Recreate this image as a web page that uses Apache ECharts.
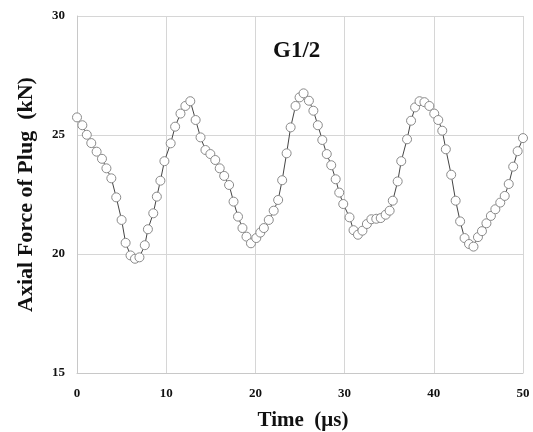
<!DOCTYPE html>
<html lang="en">

<head>
    <meta charset="UTF-8">
    <title>G1/2 axial force of plug</title>
    <script src="https://cdn.jsdelivr.net/npm/echarts@6.0.0/dist/echarts.min.js"></script>
    <style>
        html, body { margin: 0; padding: 0; background: #fff; }
    </style>
</head>

<body>
    <div id="main" style="width: 533px;height:432px;"></div>

    <script type="text/javascript">
        // time (us)
        const tempos = [
            0.0, 0.6, 1.1, 1.6, 2.2, 2.8, 3.3, 3.85, 4.4, 5.0,
            5.45, 6.0, 6.5, 7.0, 7.6, 7.95, 8.55, 8.95, 9.35, 9.8,
            10.5, 11.0, 11.6, 12.15, 12.7, 13.3, 13.85, 14.4, 14.95, 15.5,
            16.0, 16.5, 17.05, 17.55, 18.05, 18.55, 19.0, 19.5, 20.1, 20.55,
            20.95, 21.5, 22.05, 22.55, 23.0, 23.5, 23.95, 24.5, 24.95, 25.4,
            26.0, 26.5, 27.0, 27.5, 28.0, 28.5, 29.0, 29.4, 29.85, 30.55,
            31.0, 31.5, 32.0, 32.5, 33.0, 33.55, 34.05, 34.6, 35.05, 35.4,
            35.95, 36.35, 37.0, 37.45, 37.9, 38.4, 38.95, 39.5, 40.05, 40.5,
            40.95, 41.35, 41.95, 42.45, 42.95, 43.45, 43.95, 44.45, 44.95, 45.4,
            45.9, 46.4, 46.9, 47.45, 47.95, 48.4, 48.9, 49.4, 50.0
        ];
        // axial force (kN)
        const forcas = [
            25.74, 25.41, 25.01, 24.66, 24.3, 24.0, 23.6, 23.18, 22.38, 21.43,
            20.47, 19.94, 19.8, 19.86, 20.37, 21.04, 21.71, 22.41, 23.08, 23.9,
            24.65, 25.35, 25.9, 26.22, 26.42, 25.63, 24.9, 24.37, 24.2, 23.95,
            23.6, 23.28, 22.9, 22.2, 21.57, 21.09, 20.73, 20.45, 20.67, 20.9,
            21.09, 21.43, 21.82, 22.27, 23.1, 24.23, 25.32, 26.22, 26.58, 26.75,
            26.44, 26.02, 25.41, 24.79, 24.2, 23.73, 23.14, 22.58, 22.1, 21.54,
            21.0, 20.81, 20.98, 21.26, 21.46, 21.48, 21.51, 21.65, 21.82, 22.24,
            23.05, 23.9, 24.82, 25.6, 26.16, 26.42, 26.38, 26.22, 25.9, 25.63,
            25.18, 24.4, 23.33, 22.24, 21.37, 20.67, 20.42, 20.31, 20.71, 20.96,
            21.29, 21.6, 21.88, 22.16, 22.44, 22.94, 23.67, 24.32, 24.87
        ];
        const ticksX = [0, 10, 20, 30, 40, 50];
        const ticksY = [15, 20, 25, 30];

        const pontos = tempos.map((t, i) => [t, forcas[i]]);

        var grafico = echarts.init(document.getElementById('main'));

        const serif = '"Liberation Serif", "DejaVu Serif", serif';
        const grade = { show: true, lineStyle: { color: '#d6d6d6', width: 1 } };

        var option = {
            animation: false,
            backgroundColor: '#fff',
            // v6 shrinks the grid to fit labels unless told not to
            grid: { left: 77, right: 10, top: 16, bottom: 59, containLabel: false, outerBoundsMode: 'none' },
            title: {
                text: 'G1/2',
                left: 268,
                top: 35,
                textStyle: { fontFamily: serif, fontWeight: 'bold', fontSize: 23, color: '#111' }
            },
            xAxis: {
                type: 'value',
                min: ticksX[0],
                max: ticksX[ticksX.length - 1],
                interval: 10,
                name: 'Time  (\u03bcs)',
                nameLocation: 'middle',
                nameGap: 37,
                nameTextStyle: { fontFamily: serif, fontWeight: 'bold', fontSize: 21, color: '#111', padding: [0, 0, 0, 6] },
                axisLine: { show: true, lineStyle: { color: '#c8c8c8' } },
                axisTick: { show: false },
                axisLabel: { fontFamily: serif, fontWeight: 'bold', fontSize: 13, color: '#111', margin: 14 },
                splitLine: grade
            },
            yAxis: {
                type: 'value',
                min: ticksY[0],
                max: ticksY[ticksY.length - 1],
                interval: 5,
                name: 'Axial Force of Plug  (kN)',
                nameLocation: 'middle',
                nameGap: 40,
                nameTextStyle: { fontFamily: serif, fontWeight: 'bold', fontSize: 22, color: '#111' },
                axisLine: { show: true, lineStyle: { color: '#c8c8c8' } },
                axisTick: { show: false },
                axisLabel: { fontFamily: serif, fontWeight: 'bold', fontSize: 13, color: '#111', margin: 12 },
                splitLine: grade
            },
            series: [
                {
                    type: 'line',
                    data: pontos,
                    symbol: 'circle',
                    symbolSize: 9,
                    showAllSymbol: true,
                    lineStyle: { color: '#444', width: 1 },
                    itemStyle: { color: '#fff', borderColor: '#8a8a8a', borderWidth: 1 }
                }
            ]
        };

        grafico.setOption(option);
    </script>
</body>

</html>
